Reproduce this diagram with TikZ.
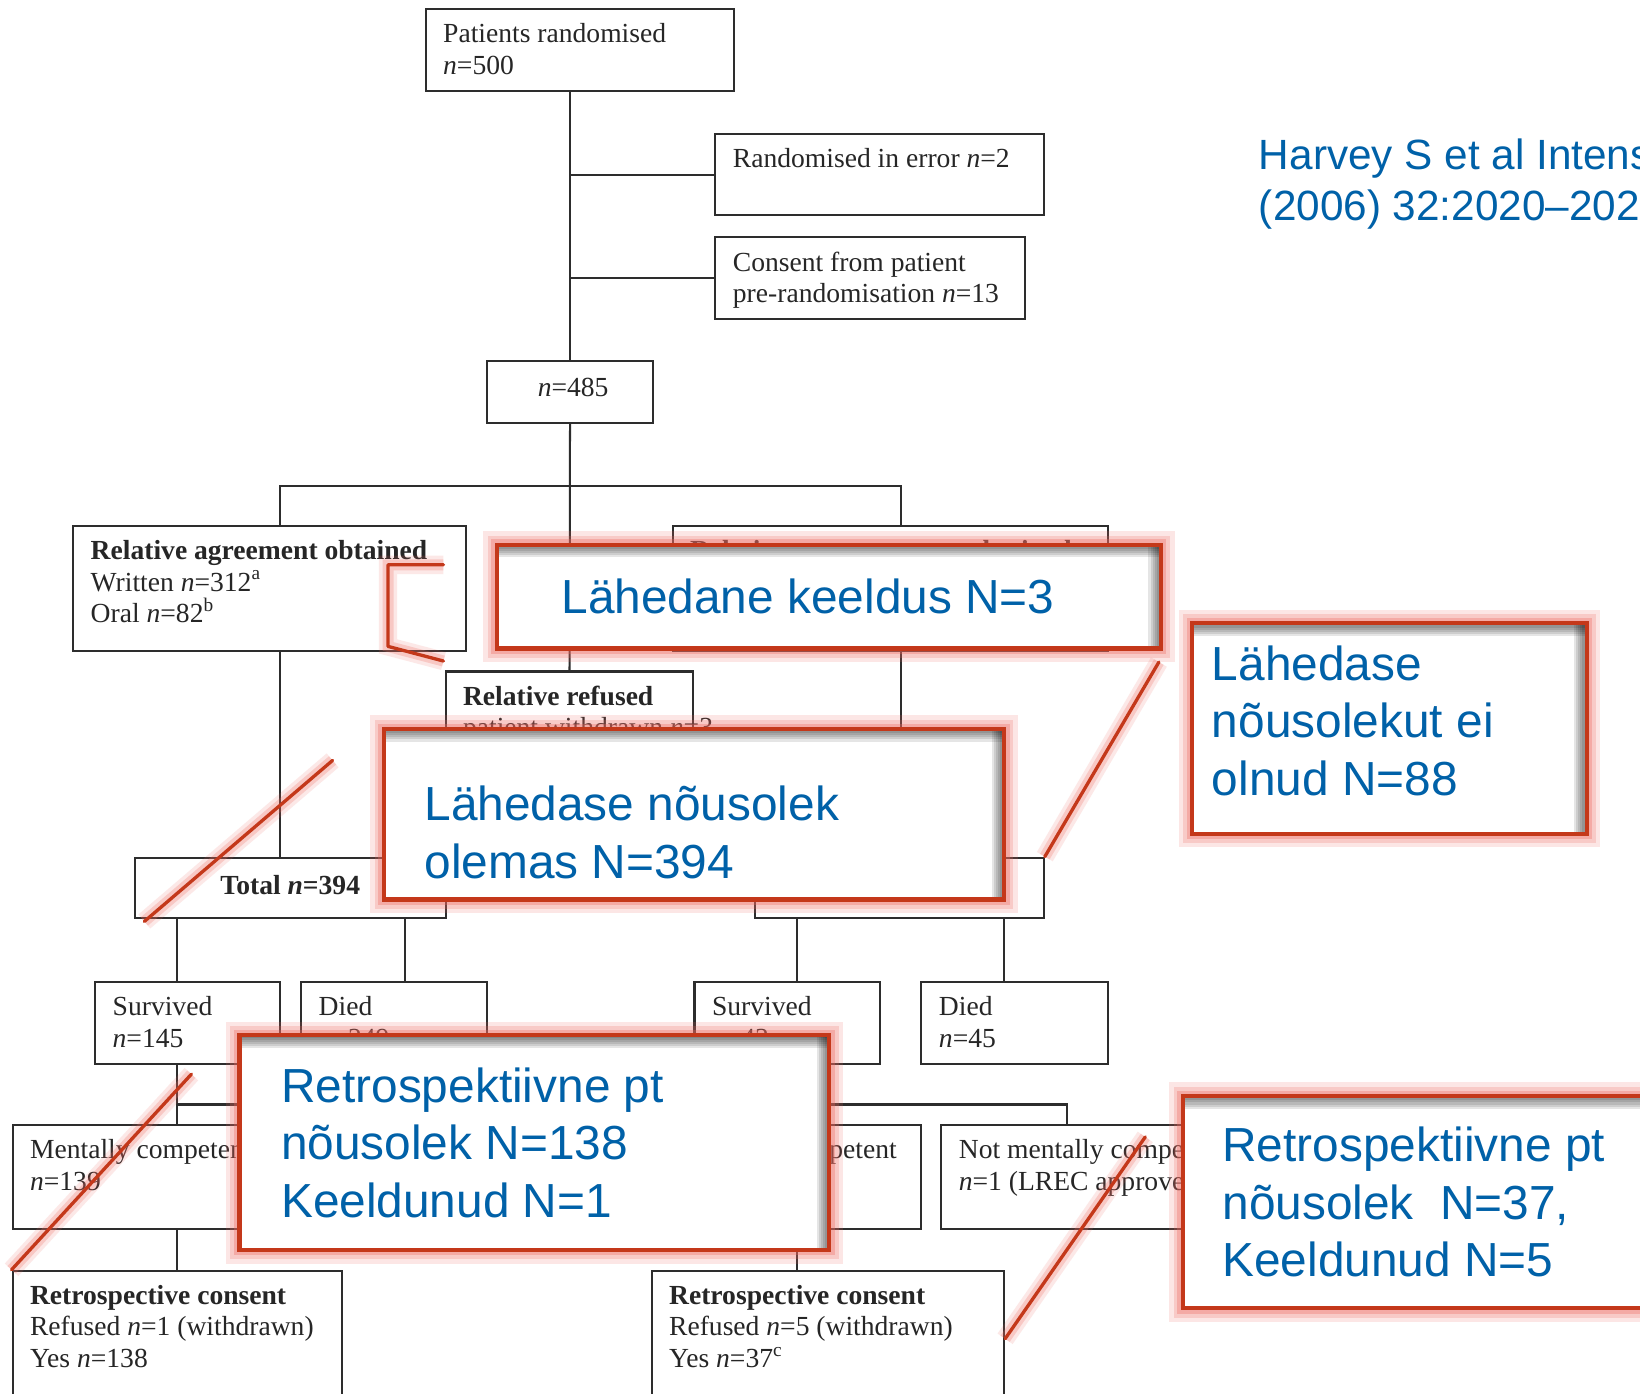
\documentclass[tikz,border=0pt]{standalone}
\usepackage{fontspec}
\setmainfont{Liberation Serif}
\newfontfamily\arialfont{Liberation Sans}
\usetikzlibrary{fit,calc}

\definecolor{calloutred}{RGB}{196,56,26}
\definecolor{glowred}{RGB}{238,105,95}
\definecolor{slideblue}{RGB}{0,97,168}
\definecolor{inkgray}{RGB}{45,45,45}

\begin{document}
\begin{tikzpicture}[x=0.01cm, y=-0.01cm,
    fbox/.style={draw=inkgray, line width=0.55pt, inner sep=0pt},
    fline/.style={draw=inkgray, line width=0.55pt},
    ftxt/.style={anchor=north west, inner xsep=0.17cm, inner ysep=0.14cm, align=left,
        text=black!85, font=\fontsize{7.5}{8.54}\selectfont},
    ctr/.style={anchor=center, inner sep=0pt, text=black!85, font=\fontsize{7.5}{8.54}\selectfont},
    callout/.style={fill=white, draw=calloutred, line width=1.1pt, inner sep=0pt,
        preaction={draw=glowred, line width=7.5pt, opacity=0.16},
        preaction={draw=glowred, line width=5pt, opacity=0.22},
        preaction={draw=glowred, line width=3pt, opacity=0.32},
        path picture={
            \foreach \d in {2,4,...,12}{
                \fill[black, opacity=0.1] (path picture bounding box.north west)
                    rectangle ([yshift=-\d*0.01cm]path picture bounding box.north east);
                \fill[black, opacity=0.1] ([xshift=-\d*0.01cm]path picture bounding box.north east)
                    rectangle (path picture bounding box.south east);
            }
        }},
    ctxt/.style={anchor=west, inner sep=0pt, align=left, text=slideblue,
        font=\arialfont\fontsize{13}{15.65}\selectfont},
    redline/.style={draw=calloutred, line width=0.9pt, line cap=round, line join=round,
        preaction={draw=glowred, line width=5pt, opacity=0.15},
        preaction={draw=glowred, line width=3pt, opacity=0.25}}
]
\useasboundingbox (0,0) rectangle (1568,1332);
\clip (0,0) rectangle (1568,1332);
\fill[white] (0,0) rectangle (1568,1332);

\node[fbox, fit={(407,9) (702,87)}, label={[ftxt]north west:{Patients randomised\\\textit{n}=500}}] (rand) {};
\node[fbox, fit={(684,128) (998,206)}, label={[ftxt]north west:{Randomised in error \textit{n}=2}}] (err) {};
\node[fbox, fit={(684,227) (980,305)}, label={[ftxt]north west:{Consent from patient\\pre-randomisation \textit{n}=13}}] (cons) {};
\node[fbox, fit={(466,345) (624,404)}, label={[ctr, xshift=0.03cm, yshift=0.04cm]center:{\textit{n}=485}}] (n485) {};
\node[fbox, fit={(70,503) (446,622)}, label={[ftxt]north west:{\textbf{Relative agreement obtained}\\Written \textit{n}=312\textsuperscript{a}\\Oral \textit{n}=82\textsuperscript{b}}}] (agree) {};
\node[fbox, fit={(643,503) (1059,622)}, label={[ftxt]north west:{\textbf{Relative agreement not obtained}}}] (noagree) {};
\node[fbox, fit={(426,642) (663,745)}, label={[ftxt]north west:{\textbf{Relative refused}\\patient withdrawn \textit{n}=3}}] (refused) {};
\node[fbox, fit={(129,820) (426,878)}, label={[ctr, yshift=0.03cm]center:{\textbf{Total \textit{n}=394}}}] (total) {};
\node[fbox, fit={(722,820) (998,878)}] (totalR) {};
\node[fbox, fit={(91,939) (268,1017)}, label={[ftxt]north west:{Survived\\\textit{n}=145}}] (survL) {};
\node[fbox, fit={(288,939) (466,1017)}, label={[ftxt]north west:{Died\\\textit{n}=249}}] (diedL) {};
\node[fbox, fit={(664,939) (841,1017)}, label={[ftxt]north west:{Survived\\\textit{n}=43}}] (survR) {};
\node[fbox, fit={(881,939) (1059,1017)}, label={[ftxt]north west:{Died\\\textit{n}=45}}] (diedR) {};
\node[fbox, fit={(12,1076) (264,1175)}, label={[ftxt]north west:{Mentally competent\\\textit{n}=139}}] (compL) {};
\node[fbox, fit={(629,1076) (881,1175)}, label={[ftxt]north west:{Mentally competent\\\textit{n}=42}}] (compR) {};
\node[fbox, fit={(900,1076) (1140,1175)}, label={[ftxt]north west:{Not mentally competent\\\textit{n}=1 (LREC approved)}}] (nocompR) {};
\node[fbox, fit={(12,1215) (327,1345)}, label={[ftxt]north west:{\textbf{Retrospective consent}\\Refused \textit{n}=1 (withdrawn)\\Yes \textit{n}=138}}] (retroL) {};
\node[fbox, fit={(623,1215) (960,1345)}, label={[ftxt]north west:{\textbf{Retrospective consent}\\Refused \textit{n}=5 (withdrawn)\\Yes \textit{n}=37\textsuperscript{c}}}] (retroR) {};

\coordinate (jL) at (268,465);
\coordinate (jR) at (861,465);
\coordinate (kL) at (169,1056);
\coordinate (kLend) at (420,1056);
\coordinate (kR) at (762,1056);
\coordinate (dL) at (387,878);
\coordinate (dR) at (960,878);

\draw[fline] (rand.south -| n485) -- (n485.north);
\draw[fline] (err.west) -- (err.west -| n485);
\draw[fline] (cons.west) -- (cons.west -| n485);
\draw[fline] (n485.south) -- (refused.north);
\draw[fline] (jL |- agree.north) -- (jL) -- (jR) -- (jR |- noagree.north);
\draw[fline] (jL |- agree.south) -- (jL |- total.north);
\draw[fline] (jR |- noagree.south) -- (jR |- totalR.north);
\draw[fline] (total.south -| kL) -- (survL.north -| kL);
\draw[fline] (dL) -- (diedL.north -| dL);
\draw[fline] (survL.south -| kL) -- (compL.north -| kL);
\draw[fline] (kL) -- (kLend);
\draw[fline] (compL.south -| kL) -- (retroL.north -| kL);
\draw[fline] (totalR.south -| kR) -- (survR.north -| kR);
\draw[fline] (dR) -- (diedR.north -| dR);
\draw[fline] (survR.south -| kR) -- (compR.north -| kR);
\draw[fline] (kR) -| (nocompR.north);
\draw[fline] (compR.south -| kR) -- (retroR.north -| kR);

\draw[redline] (424,540) -- (371,540) -- (371,618) -- (424,632);
\draw[redline] (318,727) -- (138,881);
\draw[redline] (1108,633) -- (totalR.north east);
\draw[redline] (183,1027) -- (retroL.north west);
\draw[redline] (1095,1087) -- (retroR.east);

\node[callout, fit={(475,521) (1110,620)}, label={[ctxt, xshift=0.63cm]west:{Lähedane keeldus N=3}}] (keeldus) {};
\node[callout, fit={(367,697) (960,860)}, label={[ctxt, xshift=0.4cm, yshift=-0.175cm]west:{Lähedase nõusolek\\olemas N=394}}] (olemas) {};
\node[callout, fit={(1140,596) (1517,797)}, label={[ctxt, xshift=0.2cm, yshift=0.075cm]west:{Lähedase\\nõusolekut ei\\olnud N=88}}] (puudu) {};
\node[callout, fit={(229,990) (793,1195)}, label={[ctxt, xshift=0.41cm]west:{Retrospektiivne pt\\nõusolek N=138\\Keeldunud N=1}}] (retroA) {};
\node[callout, fit={(1131,1048) (1600,1251)}, label={[ctxt, xshift=0.39cm]west:{Retrospektiivne pt\\nõusolek\ \ N=37,\\Keeldunud N=5}}] (retroB) {};

\node[anchor=west, inner sep=0pt, align=left, text=slideblue, font=\arialfont\fontsize{11.5}{13.66}\selectfont]
    (cite) at (1203,176) {Harvey S et al Intensive Care Med\\(2006) 32:2020–2025};
\end{tikzpicture}
\end{document}
